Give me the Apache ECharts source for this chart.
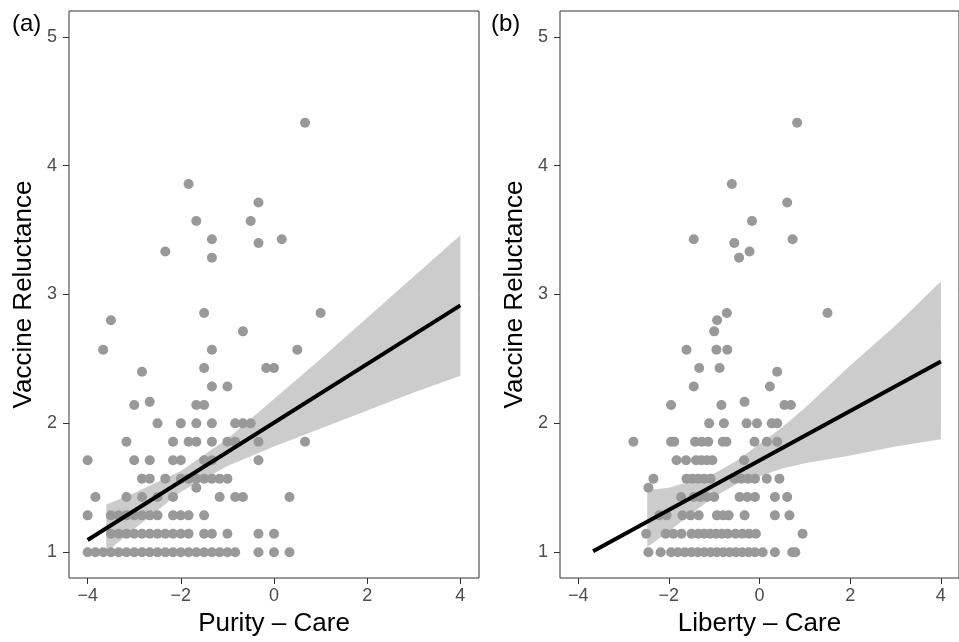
<!DOCTYPE html>
<html>
<head>
<meta charset="utf-8">
<script src="https://cdn.jsdelivr.net/npm/echarts@6/dist/echarts.min.js"></script>
<style>
  html, body { margin: 0; padding: 0; background: #fff; }
  #chart { width: 959px; height: 642px; }
</style>
</head>
<body>
<div id="chart"></div>
<script>
// tick positions
const xTicks = [-4, -2, 0, 2, 4];
const yTicks = [1, 2, 3, 4, 5];

// panel (a): Purity - Care
const purityPoints = [
  [-4, 1], [-3.833, 1], [-3.667, 1], [-3.5, 1], [-3.333, 1], [-3.167, 1], [-3, 1], [-2.833, 1],
  [-2.667, 1], [-2.5, 1], [-2.333, 1], [-2.167, 1], [-2, 1], [-1.833, 1], [-1.667, 1], [-1.5, 1],
  [-1.333, 1], [-1.167, 1], [-1, 1], [-0.833, 1], [-0.333, 1], [0, 1], [0.333, 1],
  [-3.5, 1.143], [-3.333, 1.143], [-3.167, 1.143], [-3, 1.143], [-2.833, 1.143], [-2.667, 1.143],
  [-2.5, 1.143], [-2.333, 1.143], [-2.167, 1.143], [-2, 1.143], [-1.833, 1.143], [-1.5, 1.143],
  [-1.333, 1.143], [-1, 1.143], [-0.333, 1.143], [0, 1.143],
  [-4, 1.286], [-3.5, 1.286], [-3.333, 1.286], [-3.167, 1.286], [-3, 1.286], [-2.833, 1.286],
  [-2.667, 1.286], [-2.5, 1.286], [-2.167, 1.286], [-2, 1.286], [-1.833, 1.286], [-1.5, 1.286],
  [-3.833, 1.429], [-3.167, 1.429], [-2.833, 1.429], [-2.5, 1.429], [-2.167, 1.429], [-1.167, 1.429],
  [-0.833, 1.429], [-0.667, 1.429], [0.333, 1.429],
  [-1.667, 1.5],
  [-2.833, 1.571], [-2.667, 1.571], [-2.333, 1.571], [-2, 1.571], [-1.833, 1.571], [-1.667, 1.571],
  [-1.5, 1.571], [-1.333, 1.571], [-1.167, 1.571], [-1, 1.571],
  [-4, 1.714], [-3, 1.714], [-2.667, 1.714], [-2.167, 1.714], [-2, 1.714], [-1.5, 1.714],
  [-1.333, 1.714], [-0.333, 1.714],
  [-3.167, 1.857], [-2.167, 1.857], [-1.833, 1.857], [-1.667, 1.857], [-1.333, 1.857], [-1, 1.857],
  [-0.833, 1.857], [-0.333, 1.857], [0.667, 1.857],
  [-2.5, 2], [-2, 2], [-1.667, 2], [-1.333, 2], [-0.833, 2], [-0.667, 2], [-0.5, 2],
  [-3, 2.143], [-1.667, 2.143], [-1.5, 2.143], [-2.667, 2.167],
  [-1.333, 2.286], [-1, 2.286], [-2.833, 2.4],
  [-1.5, 2.429], [-0.167, 2.429], [0, 2.429],
  [-3.667, 2.571], [-1.333, 2.571], [0.5, 2.571],
  [-0.667, 2.714], [-3.5, 2.8], [-1.5, 2.857], [1, 2.857],
  [-1.333, 3.286], [-2.333, 3.333], [-0.333, 3.4], [-1.333, 3.429], [0.167, 3.429],
  [-1.667, 3.571], [-0.5, 3.571], [-0.333, 3.714], [-1.833, 3.857], [0.667, 4.333]
];
const purityLineX = [-4, 4];
const purityLineY = [1.095, 2.916];
const purityBandX = [-3.6, -3, -2, -1, 0, 1, 2, 3, 4];
const purityBandLow = [1.00, 1.18, 1.47, 1.67, 1.82, 1.96, 2.10, 2.24, 2.37];
const purityBandHigh = [1.37, 1.46, 1.63, 1.88, 2.19, 2.50, 2.82, 3.14, 3.46];

// panel (b): Liberty - Care
const libertyPoints = [
  [-2.45, 1], [-2.18, 1], [-1.95, 1], [-1.80, 1], [-1.65, 1], [-1.50, 1], [-1.36, 1], [-1.22, 1],
  [-1.08, 1], [-0.94, 1], [-0.80, 1], [-0.66, 1], [-0.52, 1], [-0.38, 1], [-0.24, 1], [-0.10, 1],
  [0.07, 1], [0.34, 1], [0.72, 1], [0.79, 1],
  [-2.50, 1.143], [-2.07, 1.143], [-1.90, 1.143], [-1.72, 1.143], [-1.50, 1.143], [-1.35, 1.143],
  [-1.22, 1.143], [-1.09, 1.143], [-0.96, 1.143], [-0.83, 1.143], [-0.70, 1.143], [-0.53, 1.143],
  [-0.38, 1.143], [-0.23, 1.143], [-0.08, 1.143], [0.95, 1.143],
  [-2.21, 1.286], [-2.05, 1.286], [-1.70, 1.286], [-1.52, 1.286], [-1.34, 1.286], [-0.94, 1.286],
  [-0.80, 1.286], [-0.68, 1.286], [-0.33, 1.286], [0.34, 1.286], [0.66, 1.286],
  [-1.73, 1.429], [-1.45, 1.429], [-1.30, 1.429], [-1.16, 1.429], [-1.00, 1.429], [-0.44, 1.429],
  [-0.27, 1.429], [-0.10, 1.429], [0.34, 1.429], [0.61, 1.429],
  [-2.45, 1.5],
  [-2.34, 1.571], [-1.61, 1.571], [-1.48, 1.571], [-1.35, 1.571], [-1.22, 1.571], [-1.08, 1.571],
  [-0.55, 1.571], [-0.40, 1.571], [-0.25, 1.571], [-0.10, 1.571], [0.16, 1.571], [0.44, 1.571],
  [-1.83, 1.714], [-1.62, 1.714], [-1.40, 1.714], [-1.28, 1.714], [-1.16, 1.714], [-1.04, 1.714],
  [-0.34, 1.714],
  [-2.78, 1.857], [-1.95, 1.857], [-1.88, 1.857], [-1.42, 1.857], [-1.27, 1.857], [-1.13, 1.857],
  [-0.81, 1.857], [-0.73, 1.857], [-0.11, 1.857], [0.16, 1.857], [0.39, 1.857],
  [-1.11, 2], [-0.785, 2], [-0.285, 2], [-0.055, 2], [0.27, 2], [0.39, 2],
  [-1.95, 2.143], [-0.84, 2.143], [0.55, 2.143], [0.69, 2.143], [-0.33, 2.167],
  [-1.45, 2.286], [0.23, 2.286], [0.39, 2.4], [-1.33, 2.429], [-0.88, 2.429],
  [-1.61, 2.571], [-0.95, 2.571], [-0.71, 2.571], [-1.0, 2.714], [-0.935, 2.8],
  [-0.72, 2.857], [1.5, 2.857],
  [-0.45, 3.286], [-0.22, 3.333], [-0.556, 3.4], [-1.45, 3.429], [0.73, 3.429],
  [-0.165, 3.571], [0.61, 3.714], [-0.61, 3.857], [0.83, 4.333]
];
const libertyLineX = [-3.67, 4];
const libertyLineY = [1.007, 2.48];
const libertyBandX = [-2.475, -2, -1.5, -1, -0.5, 0, 0.5, 1, 2, 3, 4];
const libertyBandLow = [1.04, 1.16, 1.30, 1.43, 1.53, 1.59, 1.65, 1.69, 1.75, 1.82, 1.876];
const libertyBandHigh = [1.48, 1.50, 1.55, 1.61, 1.71, 1.84, 1.97, 2.12, 2.45, 2.76, 3.10];

const FONT = '"Liberation Sans", Arial, Helvetica, sans-serif';
const minusFmt = v => (v < 0 ? '\u2212' + Math.abs(v) : String(v));

function bandRenderer(xs, lo, hi) {
  return function (params, api) {
    const pts = [];
    for (let i = 0; i < xs.length; i++) pts.push(api.coord([xs[i], hi[i]]));
    for (let i = xs.length - 1; i >= 0; i--) pts.push(api.coord([xs[i], lo[i]]));
    return {
      type: 'polygon',
      shape: { points: pts },
      style: { fill: 'rgba(153,153,153,0.5)' }
    };
  };
}

function makeX(idx, name) {
  return {
    type: 'value',
    gridIndex: idx,
    min: -4.4,
    max: 4.4,
    axisLine: { show: false, onZero: false },
    splitLine: { show: false },
    axisTick: { show: true, length: 6, customValues: xTicks, lineStyle: { color: '#333', width: 1 } },
    axisLabel: { customValues: xTicks, color: '#4d4d4d', fontSize: 18, fontFamily: FONT, margin: 9, formatter: minusFmt },
    name: name,
    nameLocation: 'middle',
    nameGap: 33,
    nameTextStyle: { fontSize: 26, color: '#000', fontFamily: FONT }
  };
}

function makeY(idx) {
  return {
    type: 'value',
    gridIndex: idx,
    min: 0.8,
    max: 5.2,
    axisLine: { show: false, onZero: false },
    splitLine: { show: false },
    axisTick: { show: true, length: 6, customValues: yTicks, lineStyle: { color: '#333', width: 1 } },
    axisLabel: { customValues: yTicks, color: '#4d4d4d', fontSize: 18, fontFamily: FONT, margin: 12 },
    name: 'Vaccine Reluctance',
    nameLocation: 'middle',
    nameRotate: 90,
    nameGap: 32,
    nameTextStyle: { fontSize: 26, color: '#000', fontFamily: FONT }
  };
}

function toLine(xs, ys) {
  return xs.map((x, i) => [x, ys[i]]);
}

const chart = echarts.init(document.getElementById('chart'));

chart.setOption({
  animation: false,
  backgroundColor: '#fff',
  title: [
    { text: '(a)', left: 12, top: 12, padding: 0, textStyle: { fontSize: 24, fontWeight: 'normal', color: '#000', fontFamily: FONT } },
    { text: '(b)', left: 491, top: 12, padding: 0, textStyle: { fontSize: 24, fontWeight: 'normal', color: '#000', fontFamily: FONT } }
  ],
  grid: [
    { left: 69, top: 11, width: 410, height: 567, show: true, borderColor: '#333', borderWidth: 1, backgroundColor: 'transparent' },
    { left: 560, top: 11, width: 410, height: 567, show: true, borderColor: '#333', borderWidth: 1, backgroundColor: 'transparent' }
  ],
  xAxis: [makeX(0, 'Purity \u2013 Care'), makeX(1, 'Liberty \u2013 Care')],
  yAxis: [makeY(0), makeY(1)],
  series: [
    {
      type: 'scatter', xAxisIndex: 0, yAxisIndex: 0, data: purityPoints,
      symbolSize: 10, itemStyle: { color: '#999999', opacity: 1 }, z: 2
    },
    {
      type: 'custom', xAxisIndex: 0, yAxisIndex: 0, data: [[0, 1]],
      renderItem: bandRenderer(purityBandX, purityBandLow, purityBandHigh), z: 3, silent: true
    },
    {
      type: 'line', xAxisIndex: 0, yAxisIndex: 0, data: toLine(purityLineX, purityLineY),
      showSymbol: false, lineStyle: { color: '#000', width: 4 }, z: 4
    },
    {
      type: 'scatter', xAxisIndex: 1, yAxisIndex: 1, data: libertyPoints,
      symbolSize: 10, itemStyle: { color: '#999999', opacity: 1 }, z: 2
    },
    {
      type: 'custom', xAxisIndex: 1, yAxisIndex: 1, data: [[0, 1]],
      renderItem: bandRenderer(libertyBandX, libertyBandLow, libertyBandHigh), z: 3, silent: true
    },
    {
      type: 'line', xAxisIndex: 1, yAxisIndex: 1, data: toLine(libertyLineX, libertyLineY),
      showSymbol: false, lineStyle: { color: '#000', width: 4 }, z: 4
    }
  ]
});
</script>
</body>
</html>
